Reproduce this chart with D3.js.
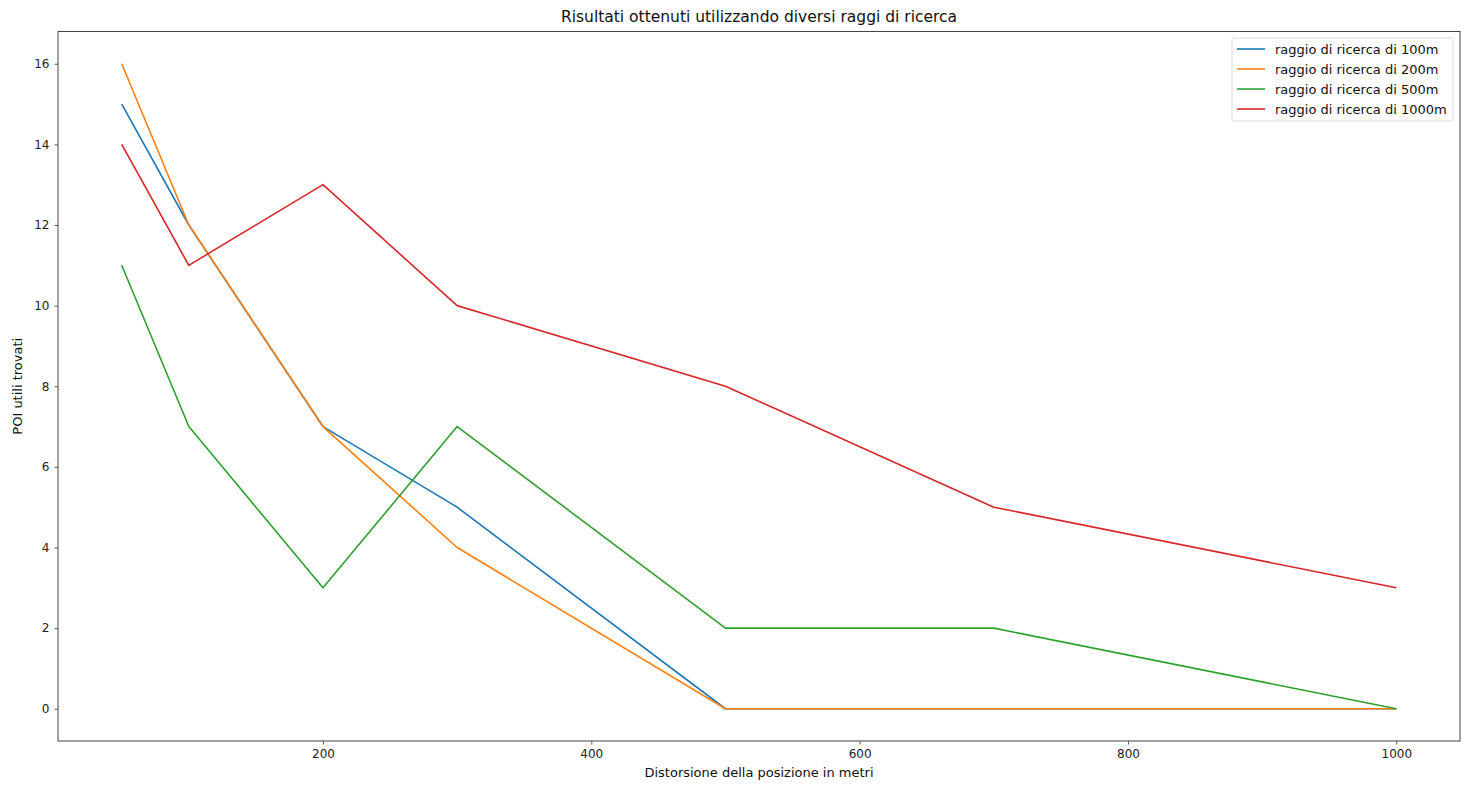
<!DOCTYPE html>
<html>
<head>
<meta charset="utf-8">
<script src="https://cdn.jsdelivr.net/npm/d3@7"></script>
<style>
	html, body { margin: 0; padding: 0; background: #fff; }
	svg { display: block; font-family: "DejaVu Sans", sans-serif; }
</style>
</head>
<body>
<script>
// distortion values on the x axis (metres)
const distortions = [50, 100, 200, 300, 500, 700, 1000];

// useful POIs found, one array per search radius
const raggio100 = [15, 12, 7, 5, 0, 0, 0];
const raggio200 = [16, 12, 7, 4, 0, 0, 0];
const raggio500 = [11, 7, 3, 7, 2, 2, 0];
const raggio1000 = [14, 11, 13, 10, 8, 5, 3];

const seriesNames = [
	"raggio di ricerca di 100m",
	"raggio di ricerca di 200m",
	"raggio di ricerca di 500m",
	"raggio di ricerca di 1000m",
];
const seriesValues = [raggio100, raggio200, raggio500, raggio1000];

const xTicks = [200, 400, 600, 800, 1000];
const yTicks = [0, 2, 4, 6, 8, 10, 12, 14, 16];

const colors = ["#1f77b4", "#ff7f0e", "#2ca02c", "#d62728"];

const width = 1467;
const height = 786;
const margin = { top: 31.5, right: 7, bottom: 45, left: 58 };

const svg = d3
	.select("body")
	.append("svg")
	.attr("width", width)
	.attr("height", height);

// matplotlib-style 5% padding on the data range
const xMin = d3.min(distortions), xMax = d3.max(distortions);
const xPad = (xMax - xMin) * 0.05;
const yMax = d3.max(seriesValues.flat());
const yPad = yMax * 0.05;

const x = d3
	.scaleLinear()
	.domain([xMin - xPad, xMax + xPad])
	.range([margin.left, width - margin.right]);

const y = d3
	.scaleLinear()
	.domain([0 - yPad, yMax + yPad])
	.range([height - margin.bottom, margin.top]);

// Axes
const xAxis = svg
	.append("g")
	.attr("transform", `translate(0,${height - margin.bottom})`)
	.call(d3.axisBottom(x).tickValues(xTicks).tickSize(3.5).tickPadding(5).tickFormat(d3.format("d")));

const yAxis = svg
	.append("g")
	.attr("transform", `translate(${margin.left},0)`)
	.call(d3.axisLeft(y).tickValues(yTicks).tickSize(3.5).tickPadding(5).tickFormat(d3.format("d")));

for (const axis of [xAxis, yAxis]) {
	axis.select(".domain").remove();
	axis.selectAll(".tick line").attr("stroke", "#333").attr("stroke-width", 0.8);
	axis.selectAll(".tick text")
		.attr("fill", "#222")
		.style("font-family", "DejaVu Sans")
		.style("font-size", "12px");
}

// Frame around the plot area
svg
	.append("rect")
	.attr("x", margin.left)
	.attr("y", margin.top)
	.attr("width", width - margin.right - margin.left)
	.attr("height", height - margin.bottom - margin.top)
	.attr("fill", "none")
	.attr("stroke", "#444")
	.attr("stroke-width", 1);

// Lines
const line = d3
	.line()
	.x((d, i) => x(distortions[i]))
	.y((d) => y(d));

svg
	.append("g")
	.attr("fill", "none")
	.attr("stroke-width", 1.6)
	.attr("stroke-linejoin", "round")
	.selectAll("path")
	.data(seriesValues)
	.join("path")
	.attr("stroke", (d, i) => colors[i])
	.attr("d", line);

// Title and axis labels
svg
	.append("text")
	.attr("x", (margin.left + width - margin.right) / 2)
	.attr("y", 22)
	.attr("text-anchor", "middle")
	.attr("fill", "#111")
	.style("font-size", "15.5px")
	.text("Risultati ottenuti utilizzando diversi raggi di ricerca");

svg
	.append("text")
	.attr("x", (margin.left + width - margin.right) / 2)
	.attr("y", 777)
	.attr("text-anchor", "middle")
	.attr("fill", "#111")
	.style("font-size", "13px")
	.text("Distorsione della posizione in metri");

svg
	.append("text")
	.attr("transform", `translate(22,${(margin.top + height - margin.bottom) / 2}) rotate(-90)`)
	.attr("text-anchor", "middle")
	.attr("fill", "#111")
	.style("font-size", "13px")
	.text("POI utili trovati");

// Legend
const legend = svg.append("g").attr("transform", "translate(1232,38)");

legend
	.append("rect")
	.attr("width", 221)
	.attr("height", 83)
	.attr("rx", 2)
	.attr("fill", "#fff")
	.attr("fill-opacity", 0.8)
	.attr("stroke", "#ddd");

const entry = legend
	.selectAll("g")
	.data(seriesNames)
	.join("g")
	.attr("transform", (d, i) => `translate(0,${11 + i * 20})`);

entry
	.append("line")
	.attr("x1", 5)
	.attr("x2", 33)
	.attr("stroke", (d, i) => colors[i])
	.attr("stroke-width", 1.6);

entry
	.append("text")
	.attr("x", 43)
	.attr("dy", "0.35em")
	.attr("fill", "#111")
	.style("font-size", "13px")
	.text((d) => d);
</script>
</body>
</html>
